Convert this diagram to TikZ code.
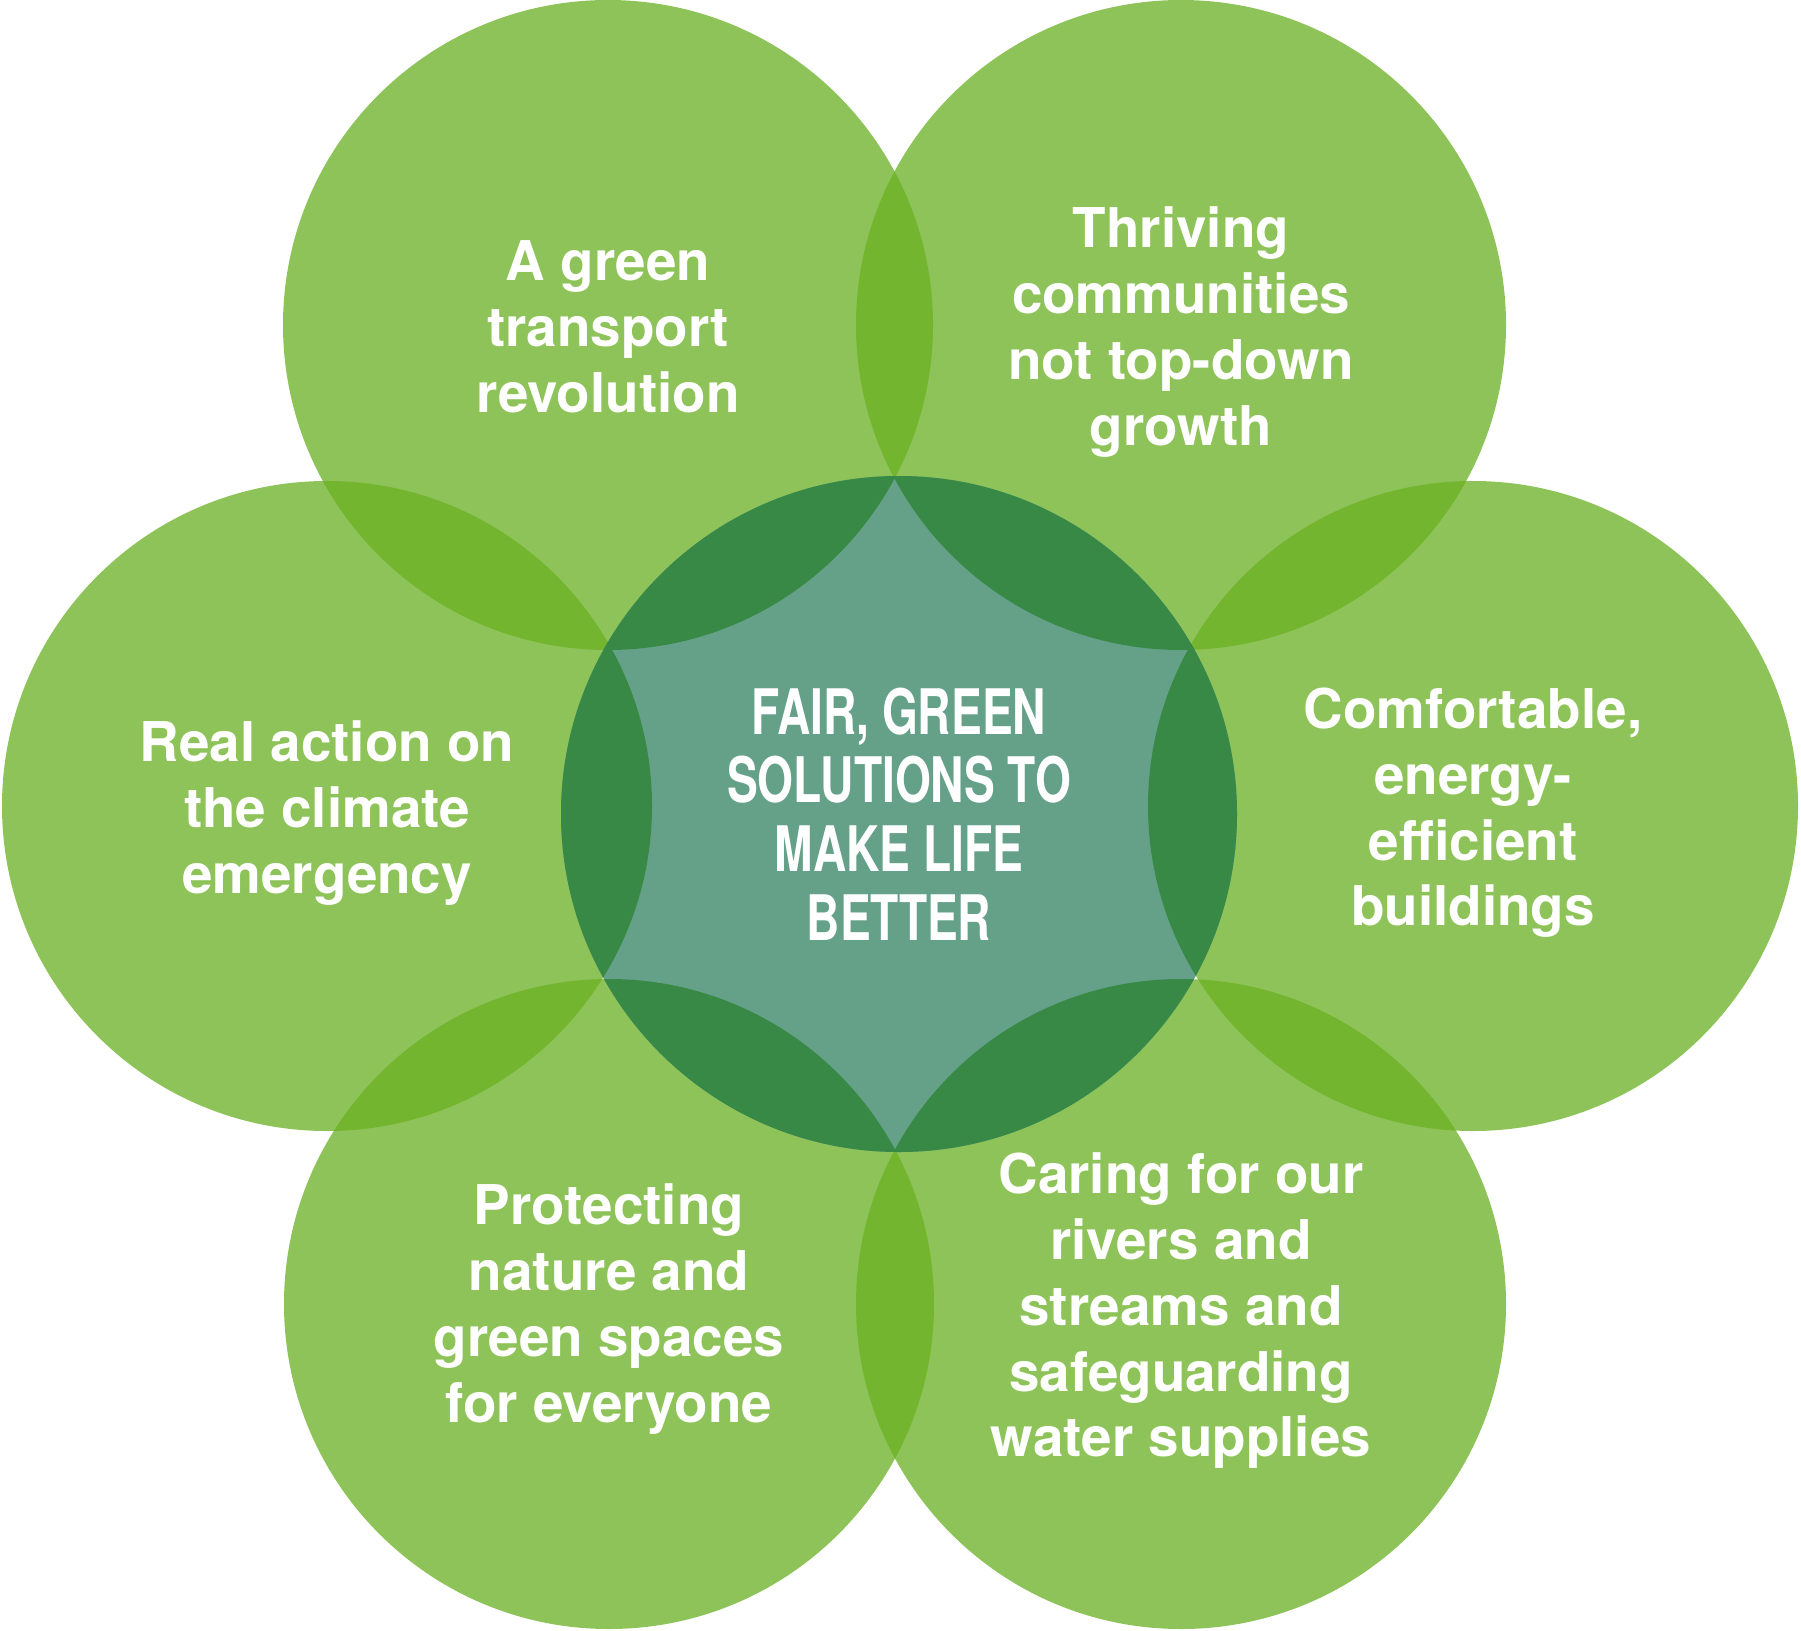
\documentclass[tikz,border=0pt]{standalone}
\usepackage{fontspec}
\setmainfont{TeX Gyre Heros}
\newfontfamily\narrowfont[FakeStretch=0.735]{TeX Gyre Heros}
\definecolor{leaf}{RGB}{141, 195, 88}
\definecolor{leafmid}{RGB}{116, 181, 47}
\definecolor{heart}{RGB}{101, 161, 137}
\definecolor{heartdark}{RGB}{56, 137, 69}
\usetikzlibrary{positioning}

\begin{document}
\begin{tikzpicture}[x=1bp, y=-1bp,
  petaltext/.style={text=white, align=center, inner sep=0pt, yshift=-7bp, font=\fontsize{55}{66}\selectfont\bfseries},
  hubtext/.style={text=white, align=center, inner sep=0pt, font=\narrowfont\bfseries\fontsize{63}{69}\selectfont}]
  \useasboundingbox (0,0) rectangle (1801,1631);

  % centres of the petals and the hub
  \coordinate (hub) at (899,814);
  \coordinate (tl) at (608,325);
  \coordinate (tr) at (1181,325);
  \coordinate (rt) at (1473,806);
  \coordinate (br) at (1181,1304);
  \coordinate (bl) at (609,1304);
  \coordinate (lt) at (327,806);

  \foreach \p in {tl,tr,rt,br,bl,lt}
    \fill[leaf] (\p) circle[radius=325bp];

  % overlaps of neighbouring petals
  \foreach \a/\b in {tl/tr, tr/rt, rt/br, br/bl, bl/lt, lt/tl} {
    \begin{scope}
      \clip (\a) circle[radius=325bp];
      \fill[leafmid] (\b) circle[radius=325bp];
    \end{scope}
  }

  \fill[heart] (hub) circle[radius=338bp];
  \foreach \p in {tl,tr,rt,br,bl,lt} {
    \begin{scope}
      \clip (hub) circle[radius=338bp];
      \fill[heartdark] (\p) circle[radius=325bp];
    \end{scope}
  }

  \node[petaltext, yshift=5bp] (transport) at (tl) {A green\\transport\\revolution};
  \node[petaltext] (communities) at (tr) {Thriving\\communities\\not top-down\\growth};
  \node[petaltext] (buildings) at (rt) {Comfortable,\\energy-\\efficient\\buildings};
  \node[petaltext] (rivers) at (br) {Caring for our\\rivers and\\streams and\\safeguarding\\water supplies};
  \node[petaltext, yshift=2bp] (nature) at (bl) {Protecting\\nature and\\green spaces\\for everyone};
  \node[petaltext] (climate) at (lt) {Real action on\\the climate\\emergency};
  \node[hubtext] (solutions) at (hub) {FAIR, GREEN\\SOLUTIONS TO\\MAKE LIFE\\BETTER};
\end{tikzpicture}
\end{document}
